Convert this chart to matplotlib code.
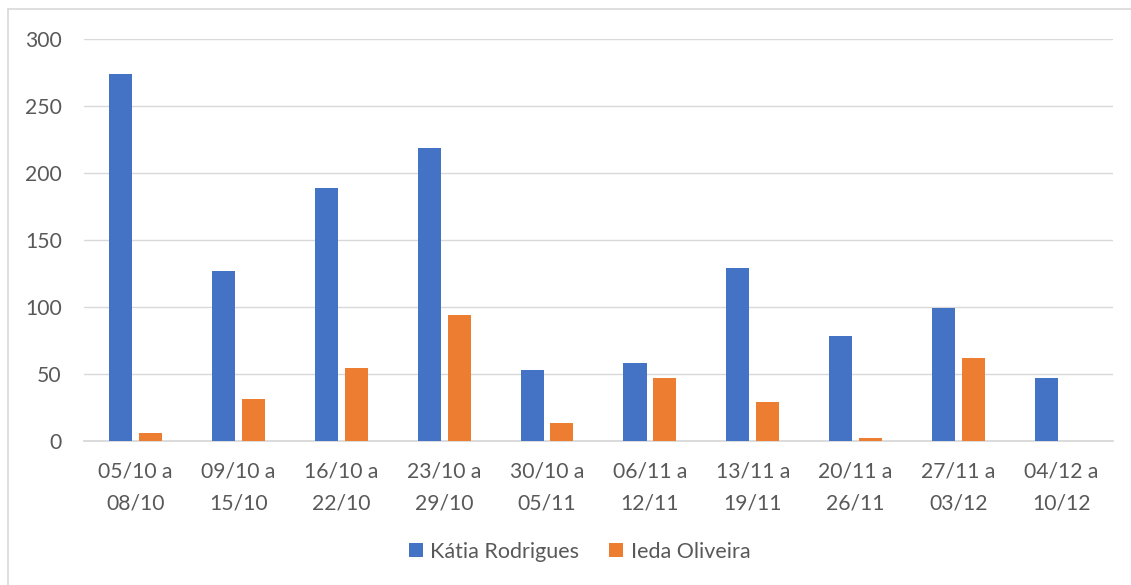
import matplotlib
matplotlib.use("Agg")
import matplotlib.pyplot as plt
import numpy as np
from matplotlib.lines import Line2D

categories = ["05/10 a\n08/10", "09/10 a\n15/10", "16/10 a\n22/10", "23/10 a\n29/10", "30/10 a\n05/11",
              "06/11 a\n12/11", "13/11 a\n19/11", "20/11 a\n26/11", "27/11 a\n03/12", "04/12 a\n10/12"]
katia = [274, 127, 189, 219, 53, 58, 129, 78, 99, 47]
ieda = [6, 31, 54, 94, 13, 47, 29, 2, 62, 0]
series_names = ["Kátia Rodrigues", "Ieda Oliveira"]

plt.rcParams['font.family'] = ['Lato', 'DejaVu Sans']
txt = '#595959'

fig = plt.figure(figsize=(11.31, 5.85), dpi=100)
ax = fig.add_axes([0.0743, 0.2467, 0.9097, 0.6861])

x = np.arange(len(categories))
w = 0.224
off = 0.145
ax.bar(x - off, katia, w, color='#4472C4', label=series_names[0], zorder=3)
ax.bar(x + off, ieda, w, color='#ED7D31', label=series_names[1], zorder=3)

ax.set_xlim(-0.5, len(categories) - 0.5)
ax.set_ylim(0, 300)
ax.set_yticks(range(0, 301, 50))
ax.grid(axis='y', color='#D9D9D9', linewidth=1, zorder=0)
for s in ['top', 'right', 'left']:
    ax.spines[s].set_visible(False)
ax.spines['bottom'].set_color('#D9D9D9')
ax.spines['bottom'].set_linewidth(1.3)
ax.tick_params(axis='both', length=0, labelsize=15.2, colors=txt)
ax.tick_params(axis='y', pad=16)
ax.tick_params(axis='x', pad=15)
ax.set_xticks(x)
ax.set_xticklabels(categories, linespacing=1.72)

leg = fig.legend(loc='center', bbox_to_anchor=(0.5125, 0.057), ncol=2, frameon=False,
                 fontsize=15.5, handlelength=0.65, handleheight=0.65, columnspacing=1.4, handletextpad=0.35)
for t in leg.get_texts():
    t.set_color(txt)

fig.add_artist(Line2D([8/1131, 8/1131], [0, 1 - 9/585], transform=fig.transFigure, color='#D9D9D9', linewidth=1.2))
fig.add_artist(Line2D([8/1131, 1], [1 - 9/585, 1 - 9/585], transform=fig.transFigure, color='#D9D9D9', linewidth=1.2))

fig.savefig('out.png', dpi=100)
